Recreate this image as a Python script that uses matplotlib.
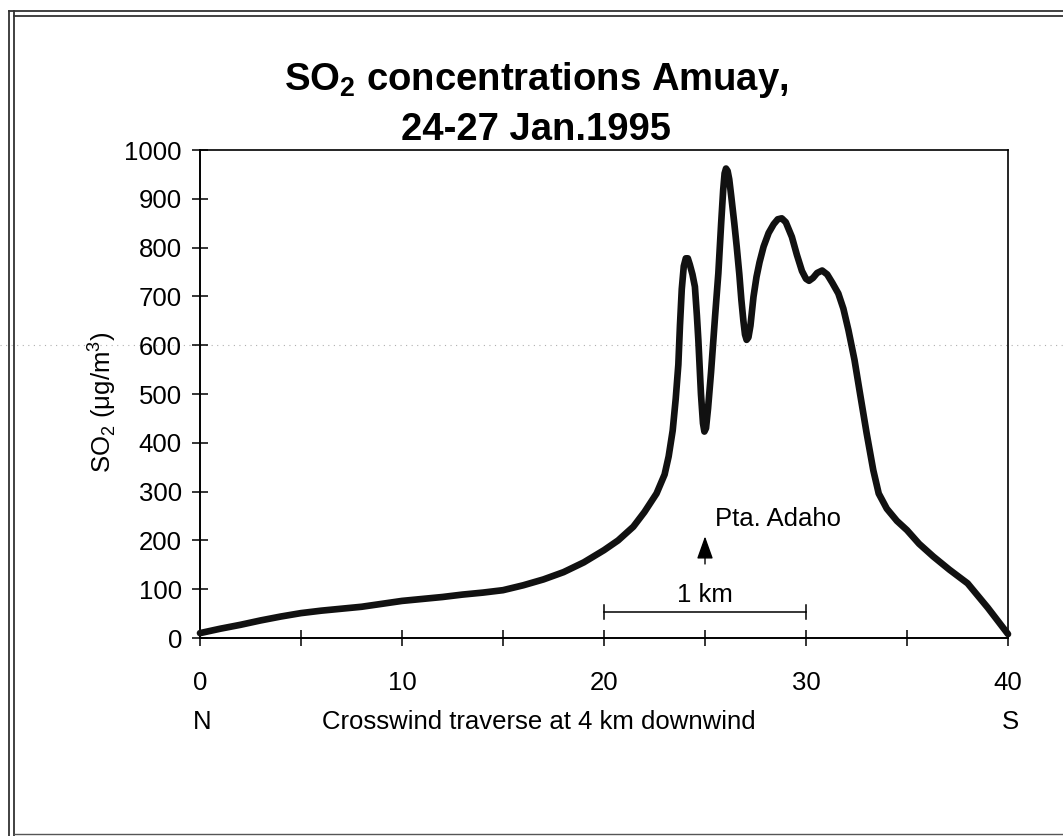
import matplotlib
matplotlib.use("Agg")
import matplotlib.pyplot as plt
from matplotlib.lines import Line2D

plt.rcParams['font.family'] = ['Liberation Sans', 'DejaVu Sans']

# Data
distance = [0, 1, 2, 3, 4, 5, 6, 7, 8, 9, 10, 11, 12, 13, 14, 15, 16, 17, 18,
            19, 20, 20.7, 21.45, 22.0, 22.6, 23.0, 23.2, 23.4, 23.55, 23.68,
            23.76, 23.85, 23.95, 24.05, 24.15, 24.25, 24.38, 24.5, 24.6, 24.67,
            24.8, 24.9, 24.97, 25.05, 25.15, 25.3, 25.5, 25.66, 25.8, 25.9,
            25.97, 26.04, 26.12, 26.2, 26.3, 26.45, 26.57, 26.7, 26.8, 26.9,
            26.98, 27.06, 27.15, 27.25, 27.4, 27.55, 27.7, 27.9, 28.15, 28.4,
            28.6, 28.8, 29.0, 29.3, 29.55, 29.8, 30.0, 30.15, 30.35, 30.55,
            30.8, 31.05, 31.3, 31.6, 31.85, 32.1, 32.4, 32.67, 33.0, 33.33,
            33.6, 34.0, 34.5, 35.0, 35.6, 36.3, 37.1, 38.0, 39.0, 40]
so2 = [10, 19, 27, 36, 44, 51, 56, 60, 64, 70, 76, 80, 84, 89, 93, 98, 108,
       120, 135, 155, 180, 200, 228, 258, 296, 335, 372, 425, 490, 560,
       640, 715, 762, 778, 778, 765, 745, 720, 660, 611,
       500, 440, 423, 430, 470, 545, 660, 747, 850, 918,
       952, 962, 957, 940, 905, 850, 802, 745, 693, 650,
       622, 611, 616, 640, 699, 740, 770, 802, 830, 848,
       858, 860, 852, 822, 785, 752, 736, 732, 738, 748,
       753, 745, 728, 706, 675, 631, 570, 502, 420, 344,
       296, 265, 240, 221, 193, 167, 140, 112, 62, 8]

xticks = [0, 5, 10, 15, 20, 25, 30, 35, 40]
xlabels = ['0', '', '10', '', '20', '', '30', '', '40']
yticks = list(range(0, 1001, 100))

FS = 18.5
W, H = 1063, 836
fig = plt.figure(figsize=(W / 100, H / 100), dpi=100)
ax = fig.add_axes([200 / W, 1 - 638 / H, 808 / W, 488 / H])
ax.patch.set_alpha(0)

ax.plot(distance, so2, color='#111111', lw=4.8, solid_joinstyle='round',
        solid_capstyle='round', clip_on=False, zorder=3)

ax.set_xlim(0, 40)
ax.set_ylim(0, 1000)
ax.set_xticks(xticks)
ax.set_xticklabels(xlabels)
ax.set_yticks(yticks)
ax.tick_params(axis='both', direction='inout', length=12, width=1.1,
               labelsize=FS, colors='black')
ax.tick_params(axis='x', pad=18)
ax.tick_params(axis='y', pad=7)
for s in ['left', 'bottom']:
    ax.spines[s].set_linewidth(1.4)
for s in ['top', 'right']:
    ax.spines[s].set_linewidth(1.2)

# Title
fig.text(536 / W, 1 - 80 / H, 'SO$_\\mathregular{2}$ concentrations Amuay,',
         ha='center', va='center', fontsize=27.5, fontweight='bold')
fig.text(536 / W, 1 - 130 / H, '24-27 Jan.1995', ha='center', va='center',
         fontsize=27.5, fontweight='bold')

# Axis labels
fig.text(102 / W, 1 - 402 / H, 'SO$_\\mathregular{2}$ (μg/m$^\\mathregular{3}$)',
         rotation=90, ha='center', va='center', fontsize=FS)
fig.text(539 / W, 1 - 722 / H, 'Crosswind traverse at 4 km downwind',
         ha='center', va='center', fontsize=FS)
fig.text(202 / W, 1 - 722 / H, 'N', ha='center', va='center', fontsize=FS)
fig.text(1010 / W, 1 - 722 / H, 'S', ha='center', va='center', fontsize=FS)

# Annotation: Pta. Adaho with arrow
ax.annotate('', xy=(25, 214), xytext=(25, 146),
            arrowprops=dict(arrowstyle='-|>,head_length=1.4,head_width=0.5',
                            color='black', lw=1.0))
ax.text(25.5, 243, 'Pta. Adaho', ha='left', va='center', fontsize=FS)

# Scale bar 1 km
ax.plot([20, 30], [53, 53], color='black', lw=1.1)
ax.plot([20, 20], [38, 68], color='black', lw=1.1)
ax.plot([30, 30], [38, 68], color='black', lw=1.1)
ax.text(25, 88, '1 km', ha='center', va='center', fontsize=FS)

# Faint dotted scan line across figure
fig.add_artist(Line2D([0, 1], [1 - 345 / H] * 2, color='#b0b0b0', lw=0.8,
                      ls=(0, (1, 4)), transform=fig.transFigure, zorder=0))

# Double frame around figure
for xv in [9, 14]:
    fig.add_artist(Line2D([xv / W] * 2, [0, 1 - 11 / H], color='#333333', lw=1.3,
                          transform=fig.transFigure))
for yv, x0 in [(11, 9), (16, 14)]:
    fig.add_artist(Line2D([x0 / W, 1], [1 - yv / H] * 2, color='#333333', lw=1.3,
                          transform=fig.transFigure))
fig.add_artist(Line2D([14 / W, 1], [1 - 834 / H] * 2, color='#555555', lw=1.0,
                      transform=fig.transFigure))

fig.savefig('out.png', dpi=100, facecolor='white')
